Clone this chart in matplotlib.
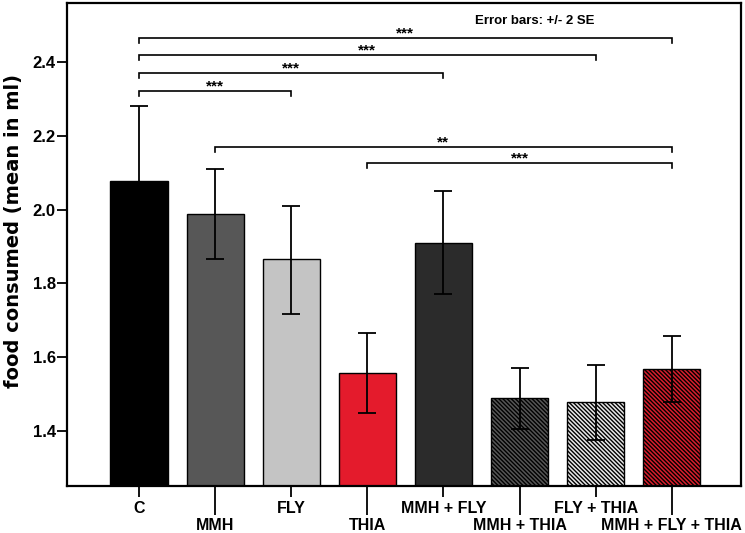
import numpy as np
import matplotlib
matplotlib.use('Agg')
import matplotlib.pyplot as plt

plt.rcParams['font.family'] = ['Liberation Sans', 'DejaVu Sans']
plt.rcParams['font.weight'] = 'bold'
plt.rcParams['hatch.linewidth'] = 1.0
plt.rcParams['hatch.color'] = 'black'

# group names and means (ml), error half-width = 2 SE
groups = ['C', 'MMH', 'FLY', 'THIA', 'MMH + FLY', 'MMH + THIA',
          'FLY + THIA', 'MMH + FLY + THIA']
means = [2.078, 1.988, 1.865, 1.558, 1.910, 1.489, 1.478, 1.568]
err_top = [2.281, 2.111, 2.010, 1.665, 2.050, 1.571, 1.579, 1.658]
err_bottom = [1.875, 1.865, 1.717, 1.449, 1.770, 1.405, 1.376, 1.479]
colors = ['#000000', '#575757', '#c4c4c4', '#e41b2c', '#2b2b2b',
          '#565656', '#e8e8e8', '#d81e2c']
hatches = ['', '', '', '', '', '\\' * 8, '\\' * 8, '\\' * 8]

# significance brackets: (from, to, height, label)
brackets = [(0, 7, 2.465, '***'),
            (0, 6, 2.419, '***'),
            (0, 4, 2.370, '***'),
            (0, 2, 2.321, '***'),
            (1, 7, 2.170, '**'),
            (3, 7, 2.126, '***')]

fig = plt.figure(figsize=(7.45, 5.33), dpi=100)
ax = fig.add_axes([0.0899, 0.0882, 0.9048, 0.9062])

x = np.arange(len(groups))
means = np.array(means)
lower = means - np.array(err_bottom)
upper = np.array(err_top) - means

ax.bar(x, means - 1.0, bottom=1.0, width=0.75, color=colors,
       edgecolor='black', linewidth=1.0, hatch=hatches, zorder=2)
ax.errorbar(x, means, yerr=[lower, upper], fmt='none', ecolor='black',
            elinewidth=1.3, capsize=6.5, capthick=1.3, zorder=3)

# brackets with stars
leg = 0.014
for i, j, y, label in brackets:
    ax.plot([i, i, j, j], [y - leg, y, y, y - leg], color='black',
            linewidth=1.2, solid_joinstyle='miter', zorder=3)
    ax.annotate(label, xy=((i + j) / 2, y), xytext=(0, 3.5),
                textcoords='offset points', ha='center', va='center',
                fontsize=11, fontweight='bold')

ax.text(0.782, 0.962, 'Error bars: +/- 2 SE', transform=ax.transAxes,
        ha='right', va='center', fontsize=9.5, fontweight='bold')

ax.set_xlim(-0.946, 7.91)
ax.set_ylim(1.251, 2.56)
ax.set_yticks([1.4, 1.6, 1.8, 2.0, 2.2, 2.4])
ax.set_yticklabels(['1.4', '1.6', '1.8', '2.0', '2.2', '2.4'],
                   fontsize=12, fontweight='bold')

# staggered category labels: even ones short ticks, odd ones long ticks
ax.set_xticks(x[::2], labels=groups[::2])
ax.set_xticks(x[1::2], labels=groups[1::2], minor=True)
ax.tick_params(axis='x', which='major', length=8, width=1.3, pad=3,
               labelsize=11.5)
ax.tick_params(axis='x', which='minor', length=21, width=1.3, pad=2,
               labelsize=11.5)
ax.tick_params(axis='y', length=7, width=1.3, pad=1)
for lab in ax.get_xticklabels(which='both'):
    lab.set_fontweight('bold')

for sp in ax.spines.values():
    sp.set_linewidth(1.6)

ax.set_ylabel('food consumed (mean in ml)', fontsize=14, fontweight='bold',
              family=['DejaVu Sans'])
ax.yaxis.set_label_coords(-0.0653, 0.528)

fig.savefig('out.png', dpi=100)
